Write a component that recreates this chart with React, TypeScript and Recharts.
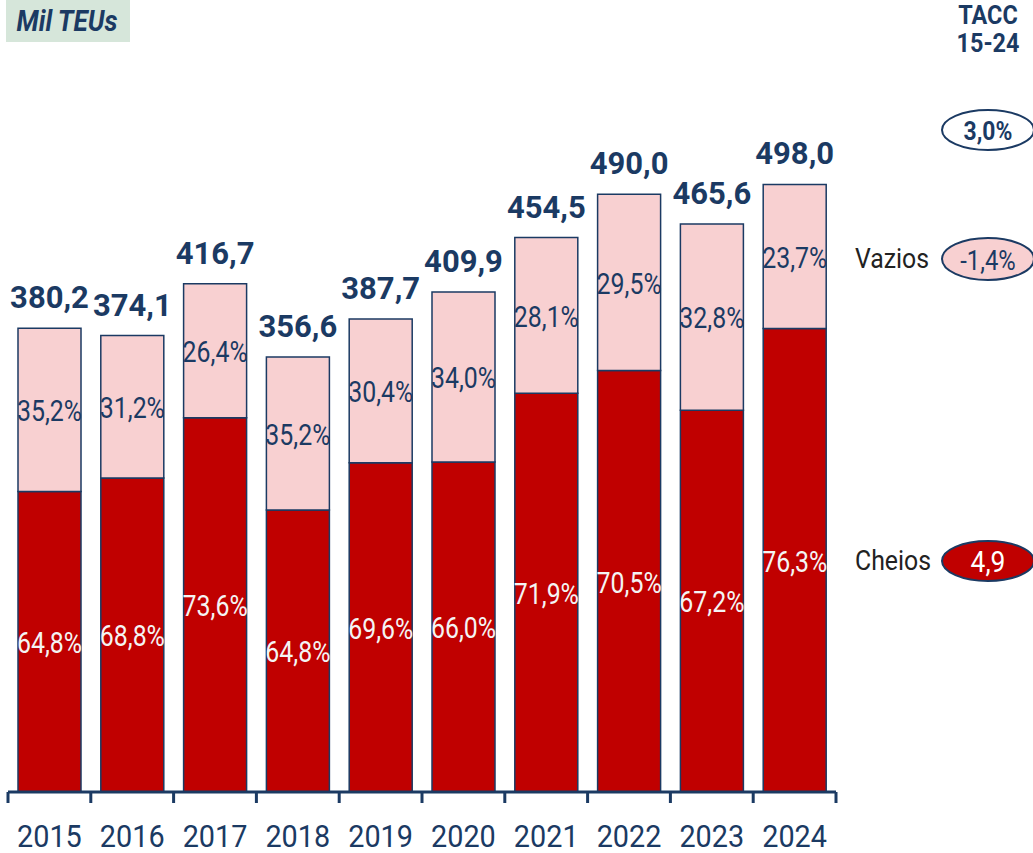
import { BarChart, Bar, XAxis, YAxis, LabelList } from "recharts";

const years = ["2015", "2016", "2017", "2018", "2019", "2020", "2021", "2022", "2023", "2024"];
const cheios = [246.4, 257.4, 306.7, 231.1, 269.8, 270.5, 326.8, 345.5, 312.9, 380.0];
const vazios = [133.8, 116.7, 110.0, 125.5, 117.9, 139.4, 127.7, 144.5, 152.7, 118.0];
const totals = [380.2, 374.1, 416.7, 356.6, 387.7, 409.9, 454.5, 490.0, 465.6, 498.0];
const cheiosPct = ["64,8%", "68,8%", "73,6%", "64,8%", "69,6%", "66,0%", "71,9%", "70,5%", "67,2%", "76,3%"];
const vaziosPct = ["35,2%", "31,2%", "26,4%", "35,2%", "30,4%", "34,0%", "28,1%", "29,5%", "32,8%", "23,7%"];
const taccTotal = "3,0%";
const taccVazios = "-1,4%";
const taccCheios = "4,9";

const NAVY = "#1b3a63";
const RED = "#c00000";
const PINK = "#f8d0d1";
const FONT = "Roboto, 'Noto Sans', sans-serif";

const W = 1033;
const H = 853;
const M = { top: 60, right: 197, bottom: 11, left: 8 };
const XH = 50;
const AXIS_Y = H - M.bottom - XH;
const BAND = (W - M.left - M.right) / years.length;

const data = years.map((year, i) => ({
  year,
  cheios: cheios[i],
  vazios: vazios[i],
  total: totals[i],
  cPct: cheiosPct[i],
  vPct: vaziosPct[i],
}));

const Condensed = ({ x, y, text, size, fill, weight = 400, sx = 0.83, italic = false }: any) => (
  <g transform={`translate(${x},${y}) scale(${sx},1)`}>
    <text
      textAnchor="middle"
      dominantBaseline="central"
      fontFamily={FONT}
      fontSize={size}
      fontWeight={weight}
      fontStyle={italic ? "italic" : "normal"}
      fill={fill}
    >
      {text}
    </text>
  </g>
);

const pctLabel = (fill: string) => (props: any) => {
  const { x, y, width, height, value } = props;
  return <Condensed x={x + width / 2} y={y + height / 2 + 1} text={value} size={30} fill={fill} />;
};

const totalLabel = (props: any) => {
  const { x, y, width, value } = props;
  return (
    <text x={x + width / 2} y={y - 20} textAnchor="middle" fontFamily={FONT} fontSize={31} fontWeight={700} fill={NAVY}>
      {value.toFixed(1).replace(".", ",")}
    </text>
  );
};

const YearTick = (props: any) => {
  const { x, payload, index } = props;
  return (
    <g>
      <line x1={x - BAND / 2} x2={x - BAND / 2} y1={AXIS_Y} y2={AXIS_Y + 11} stroke={NAVY} strokeWidth={3} />
      {index === years.length - 1 && (
        <line x1={x + BAND / 2} x2={x + BAND / 2} y1={AXIS_Y} y2={AXIS_Y + 11} stroke={NAVY} strokeWidth={3} />
      )}
      <Condensed x={x} y={AXIS_Y + 44} text={payload.value} size={32} fill={NAVY} sx={0.9} />
    </g>
  );
};

export default function App() {
  return (
    <div style={{ position: "absolute", left: 0, top: 0, width: W, height: H, background: "#fff", overflow: "hidden" }}>
      <BarChart width={W} height={H} data={data} margin={M} barSize={63}>
        <YAxis hide domain={[0, 600]} />
        <XAxis
          dataKey="year"
          height={XH}
          tickLine={false}
          tickSize={0}
          axisLine={{ stroke: NAVY, strokeWidth: 3 }}
          tick={<YearTick />}
          interval={0}
        />
        <Bar dataKey="cheios" stackId="a" fill={RED} stroke={NAVY} strokeWidth={1.5} isAnimationActive={false}>
          <LabelList dataKey="cPct" content={pctLabel("#f4f4f4")} />
        </Bar>
        <Bar dataKey="vazios" stackId="a" fill={PINK} stroke={NAVY} strokeWidth={1.5} isAnimationActive={false}>
          <LabelList dataKey="vPct" content={pctLabel(NAVY)} />
          <LabelList dataKey="total" content={totalLabel} />
        </Bar>
      </BarChart>

      <svg width={W} height={H} style={{ position: "absolute", left: 0, top: 0, pointerEvents: "none" }}>
        <rect x={6} y={0} width={124} height={42} fill="#d6e6da" />
        <Condensed x={67} y={21} text="Mil TEUs" size={29} fill={NAVY} weight={700} sx={0.9} italic />

        <Condensed x={988} y={15} text="TACC" size={26} fill={NAVY} weight={700} sx={0.9} />
        <Condensed x={988} y={43} text="15-24" size={26} fill={NAVY} weight={700} sx={0.9} />

        <ellipse cx={988} cy={130} rx={46} ry={20} fill="#fff" stroke={NAVY} strokeWidth={2} />
        <Condensed x={988} y={131} text={taccTotal} size={26} fill={NAVY} weight={700} sx={0.88} />

        <text x={855} y={259} dominantBaseline="central" fontFamily={FONT} fontSize={27} fill="#222" transform="translate(855,0) scale(0.92,1) translate(-855,0)">
          Vazios
        </text>
        <ellipse cx={988} cy={259} rx={46} ry={21} fill={PINK} stroke={NAVY} strokeWidth={2} />
        <Condensed x={988} y={260} text={taccVazios} size={28} fill={NAVY} sx={0.85} />

        <text x={855} y={561} dominantBaseline="central" fontFamily={FONT} fontSize={27} fill="#222" transform="translate(855,0) scale(0.92,1) translate(-855,0)">
          Cheios
        </text>
        <ellipse cx={988} cy={561} rx={46} ry={20} fill={RED} stroke={NAVY} strokeWidth={2} />
        <Condensed x={988} y={562} text={taccCheios} size={30} fill="#fff" sx={0.88} />
      </svg>
    </div>
  );
}
